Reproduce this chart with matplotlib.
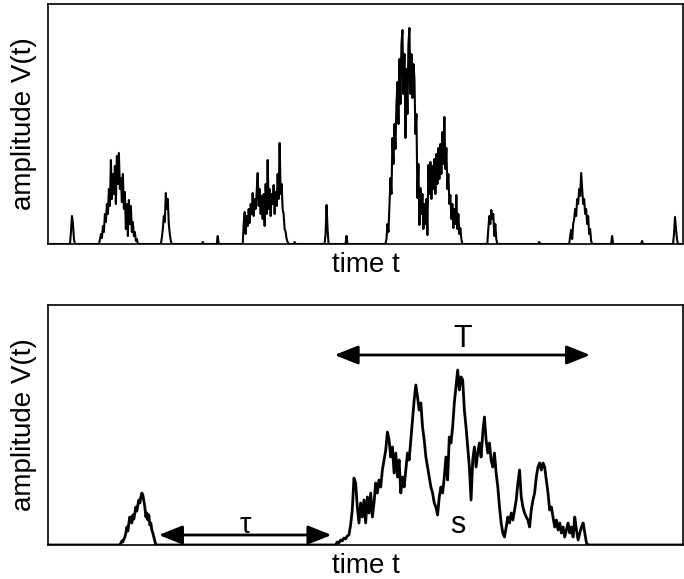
import numpy as np
import matplotlib
matplotlib.use("Agg")
import matplotlib.pyplot as plt

plt.rcParams["font.family"] = ["Liberation Sans", "DejaVu Sans"]

T_MAX = 636
V_MAX = 240

# --- upper trace: onset time of each avalanche + amplitude at unit time steps
top_onsets = [22, 51, 113, 154, 169, 195, 246, 277, 298, 338, 440, 491, 522, 564, 594, 626]

top_a = [0, 12, 28, 20, 5, 0]
top_b = [0, 4, 10, 6, 18, 12, 30, 22, 40, 30, 55, 38, 84, 45, 70, 50, 78, 40, 88, 60,
         91, 55, 66, 42, 70, 35, 52, 15, 40, 8, 44, 20, 38, 12, 22, 8, 12, 3, 5, 0]
top_c = [0, 6, 15, 28, 22, 51, 35, 45, 20, 10, 3, 0]
top_d = [0, 2, 0]
top_e = [0, 8, 0]
top_f = [0, 20, 32, 10, 28, 18, 35, 21, 40, 30, 51, 28, 45, 35, 52, 71, 38, 55, 30, 48,
         25, 50, 18, 60, 30, 84, 35, 55, 28, 50, 40, 59, 30, 52, 38, 70, 45, 101, 50, 60,
         35, 30, 15, 12, 5, 2, 0]
top_g = [0, 2, 0]
top_h = [0, 10, 39, 15, 0]
top_i = [0, 8, 0]
top_j = [0, 5, 20, 12, 40, 66, 50, 106, 80, 120, 95, 140, 162, 120, 185, 140, 200, 214, 150, 190,
         106, 175, 130, 200, 216, 150, 190, 146, 180, 166, 110, 130, 46, 80, 19, 56, 30, 50, 15, 40,
         20, 45, 9, 79, 50, 82, 45, 78, 55, 85, 50, 90, 60, 96, 65, 100, 70, 112, 80, 127,
         75, 96, 55, 70, 40, 49, 25, 40, 16, 35, 20, 49, 15, 30, 10, 16, 5, 0]
top_k = [0, 15, 28, 20, 34, 25, 30, 8, 20, 5, 0]
top_l = [0, 2, 0]
top_m = [0, 8, 14, 5, 20, 25, 35, 28, 45, 40, 55, 48, 71, 55, 40, 45, 30, 35, 20, 28,
         10, 15, 3, 0]
top_n = [0, 8, 0]
top_o = [0, 3, 0]
top_p = [0, 10, 27, 15, 5, 0]
top_bursts = [top_a, top_b, top_c, top_d, top_e, top_f, top_g, top_h,
              top_i, top_j, top_k, top_l, top_m, top_n, top_o, top_p]

# --- lower trace: one short avalanche, a quiet interval, then one long avalanche
small_onset = 72
small_burst = [0, 2, 4, 3, 6, 8, 12, 18, 14, 22, 28, 24, 22, 30, 26, 32, 38, 34, 40, 45,
               42, 48, 52, 50, 44, 38, 28, 32, 25, 30, 20, 22, 15, 12, 8, 4, 0]

big_start, big_end = 288, 541
big_burst = [0, 3, 2, 5, 4, 7, 6, 9, 10, 20,
             35, 67, 62, 38, 22, 42, 28, 45, 22, 48, 32, 52, 28, 42, 62, 52, 65, 58, 75, 85,
             95, 113, 105, 88, 98, 72, 92, 68, 85, 52, 68, 58, 75, 92, 85, 105, 125, 145, 160, 148,
             135, 142, 118, 105, 88, 78, 68, 58, 52, 42, 38, 30, 48, 58, 52, 68, 88, 65, 108, 102,
             118, 142, 158, 175, 155, 168, 165, 135, 118, 98, 78, 45, 85, 98, 78, 92, 102, 88, 112, 128,
             105, 92, 102, 85, 78, 92, 72, 58, 38, 22, 12, 8, 18, 28, 22, 32, 25, 35, 45, 62,
             75, 48, 38, 32, 28, 25, 18, 35, 45, 52, 68, 78, 82, 75, 82, 78, 65, 52, 35, 38,
             28, 18, 25, 15, 22, 12, 18, 8, 15, 22, 12, 18, 8, 28, 15, 5, 12, 18, 22, 12,
             2, 0]

tau_span = (111, 284)
tau_level = 10
T_span = (287, 543)
T_level = 190


def assemble(onsets, bursts):
    t = [np.array([0.0])]
    v = [np.array([0.0])]
    for t0, vals in zip(onsets, bursts):
        t.append(t0 + np.arange(len(vals)))
        v.append(np.asarray(vals, dtype=float))
    t.append(np.array([T_MAX]))
    v.append(np.array([0.0]))
    return np.concatenate(t), np.concatenate(v)


def style(ax):
    ax.set_xlim(0, T_MAX)
    ax.set_ylim(0, V_MAX)
    ax.set_xticks([])
    ax.set_yticks([])
    for sp in ax.spines.values():
        sp.set_linewidth(1.2)
    ax.set_ylabel("amplitude V(t)", fontsize=20, labelpad=8)
    ax.set_xlabel("time t", fontsize=20, labelpad=6)


fig = plt.figure(figsize=(6.84, 5.79), dpi=100)
ax1 = fig.add_axes([48 / 684, 335 / 579, 635 / 684, 240 / 579])
ax2 = fig.add_axes([48 / 684, 34 / 579, 635 / 684, 240 / 579])

t1, v1 = assemble(top_onsets, top_bursts)
ax1.plot(t1, v1, color="black", lw=1.5)
style(ax1)

t_small = small_onset + np.arange(len(small_burst))
t_big = np.linspace(big_start, big_end, len(big_burst))
t2 = np.concatenate([[0], t_small, t_big, [T_MAX]])
v2 = np.concatenate([[0], small_burst, big_burst, [0]])
ax2.plot(t2, v2, color="black", lw=2.0)
style(ax2)

arrow = dict(arrowstyle="<|-|>,head_length=0.8,head_width=0.32", color="black", lw=2.0,
             shrinkA=0, shrinkB=0, mutation_scale=18)
ax2.annotate("", xy=(tau_span[0], tau_level), xytext=(tau_span[1], tau_level), arrowprops=arrow)
ax2.annotate("", xy=(T_span[0], T_level), xytext=(T_span[1], T_level), arrowprops=arrow)
ax2.text(sum(tau_span) / 2, tau_level + 2, "τ", fontsize=21, ha="center", va="baseline")
ax2.text(sum(T_span) / 2, T_level + 8, "T", fontsize=22, ha="center", va="baseline")
ax2.text(410, 12, "s", fontsize=22, ha="center", va="baseline")

fig.savefig("out.png", dpi=100)
